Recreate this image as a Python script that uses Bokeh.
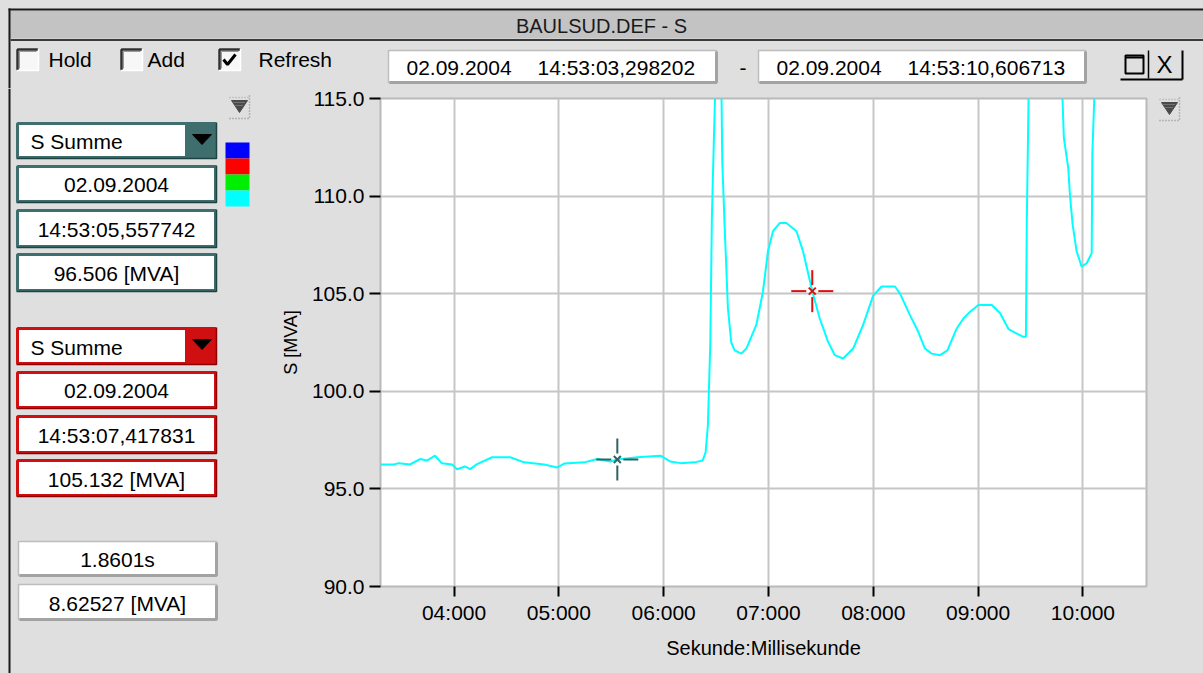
from bokeh.plotting import figure
from bokeh.layouts import column, row
from bokeh.models import Range1d, FixedTicker, PrintfTickFormatter
from bokeh.core.properties import value
from bokeh.embed import file_html
from bokeh.resources import INLINE

# ---------------- data ----------------
time_s = [3.298, 3.426, 3.474, 3.579, 3.675, 3.742, 3.818, 3.885, 3.981, 4.029,
          4.105, 4.153, 4.220, 4.363, 4.535, 4.669, 4.860, 4.985, 5.052, 5.243,
          5.367, 5.491, 5.558, 5.750, 5.969, 6.065, 6.161, 6.294, 6.371, 6.400,
          6.422, 6.445, 6.460, 6.479, 6.500, 6.524, 6.548, 6.559, 6.581, 6.613,
          6.645, 6.677, 6.741, 6.789, 6.884, 6.947, 6.995, 7.043, 7.107, 7.171,
          7.267, 7.330, 7.418, 7.489, 7.569, 7.633, 7.712, 7.808, 7.903, 7.999,
          8.079, 8.207, 8.254, 8.350, 8.429, 8.493, 8.557, 8.637, 8.707, 8.796,
          8.860, 8.924, 9.003, 9.131, 9.210, 9.290, 9.370, 9.433, 9.456, 9.465,
          9.484, 9.55, 9.65, 9.75, 9.802, 9.818, 9.860, 9.876, 9.902, 9.940,
          9.988, 10.036, 10.084, 10.090, 10.115, 10.2, 10.4, 10.6067]
s_mva = [96.25, 96.25, 96.32, 96.25, 96.53, 96.45, 96.70, 96.31, 96.25, 96.01,
         96.15, 96.01, 96.27, 96.62, 96.62, 96.36, 96.25, 96.10, 96.30, 96.36,
         96.53, 96.40, 96.51, 96.62, 96.70, 96.40, 96.32, 96.36, 96.45, 96.87,
         98.26, 102.5, 108.9, 112.9, 117.0, 119.0, 117.0, 111.8, 108.55, 104.25,
         102.5, 102.1, 101.93, 102.19, 103.4, 105.1, 107.17, 108.2, 108.62, 108.62,
         108.2, 107.17, 105.13, 103.73, 102.53, 101.85, 101.68, 102.19, 103.4, 104.9,
         105.37, 105.37, 105.02, 103.9, 103.05, 102.19, 101.93, 101.85, 102.1, 103.22,
         103.73, 104.08, 104.42, 104.42, 104.0, 103.19, 102.96, 102.79, 102.8, 108.88,
         116.0, 122.0, 127.0, 121.0, 115.5, 113.0, 111.45, 110.08, 108.54, 107.17,
         106.39, 106.56, 107.08, 112.14, 116.0, 122.0, 125.0, 124.0]

x_ticks = [4, 5, 6, 7, 8, 9, 10]
x_tick_labels = ["04:000", "05:000", "06:000", "07:000", "08:000", "09:000", "10:000"]
y_ticks = [90, 95, 100, 105, 110, 115]
t_start, t_end = 3.298202, 10.606713
y_start, y_end = 90.0, 115.0

cursor_time = [5.557742, 7.417831]
cursor_value = [96.506, 105.132]
cursor_color = ["#2f6262", "#dd1010"]

title_text = "BAULSUD.DEF - S"
checkbox_labels = ["Hold", "Add", "Refresh"]
checkbox_checked = [False, False, True]
range_dates = ["02.09.2004", "02.09.2004"]
range_times = ["14:53:03,298202", "14:53:10,606713"]
cursor1_fields = ["02.09.2004", "14:53:05,557742", "96.506 [MVA]"]
cursor2_fields = ["02.09.2004", "14:53:07,417831", "105.132 [MVA]"]
diff_fields = ["1.8601s", "8.62527 [MVA]"]
channel_name = "S  Summe"
swatch_colors = ["#0000ff", "#ff0000", "#00ee00", "#00ffff"]
x_label = "Sekunde:Millisekunde"
y_label = "S [MVA]"

# ---------------- style ----------------
BG = "#dfdfdf"
FONT = "Liberation Sans"
FS = "21px"


class Canvas:
    """A figure whose frame is the whole canvas, 1 unit = 1 pixel (y down)."""
    def __init__(self, ox, oy, w, h):
        self.ox, self.oy = ox, oy
        f = figure(width=w, height=h, x_range=Range1d(0, w), y_range=Range1d(h, 0),
                   output_backend="svg", toolbar_location=None, min_border=0,
                   x_axis_type=None, y_axis_type=None,
                   background_fill_color=BG, border_fill_color=BG,
                   outline_line_color=None, frame_align=False,
                   styles={"background-color": BG})
        self.f = f

    def box(self, x0, x1, y0, y1, fill=None, line=None, lw=1):
        self.f.quad(left=[x0 - self.ox], right=[x1 - self.ox],
                    top=[y0 - self.oy], bottom=[y1 - self.oy],
                    fill_color=fill, line_color=line, line_width=lw)

    def line(self, xs, ys, color="#000000", width=1, dash="solid"):
        self.f.line([x - self.ox for x in xs], [y - self.oy for y in ys],
                    line_color=color, line_width=width, line_dash=dash)

    def patch(self, xs, ys, color):
        self.f.patch([x - self.ox for x in xs], [y - self.oy for y in ys],
                     fill_color=color, line_color=color, line_width=1)

    def text(self, x, y, s, size=FS, align="left", color="#000000", style="normal"):
        self.f.text(x=[x - self.ox], y=[y - self.oy], text=[s],
                    text_font=value(FONT), text_font_size=size,
                    text_align=align, text_baseline="middle",
                    text_color=color, text_font_style=style)


def checkbox(c, x0, y0, checked, s=22):
    c.box(x0, x0 + s, y0, y0 + s, fill="#f7f7f7", line=None)
    c.line([x0 + 1, x0 + 1, x0 + s], [y0 + s, y0 + 1, y0 + 1], "#303030", 2.5)
    c.line([x0 + 3, x0 + 3, x0 + s - 2], [y0 + s - 2, y0 + 3, y0 + 3], "#9a9a9a", 1)
    c.line([x0, x0 + s, x0 + s], [y0 + s, y0 + s, y0], "#ffffff", 1.5)
    if checked:
        c.line([x0 + 5, x0 + 9, x0 + 17], [y0 + 11, y0 + 16, y0 + 6], "#000000", 3)


def raised_field(c, x0, x1, y0, y1):
    c.box(x0, x1, y0, y1, fill="#ffffff", line="#bdbdbd", lw=1.5)
    c.line([x0 + 1, x1, x1], [y1, y1, y0 + 1], "#a3a3a3", 3)


def colour_field(c, x0, x1, y0, y1, col, dark, label):
    c.box(x0, x1, y0, y1, fill="#ffffff", line=col, lw=3)
    c.line([x0 - 1, x1 + 1, x1 + 1], [y1 + 1, y1 + 1, y0 - 1], dark, 1.5)
    c.text((x0 + x1) / 2, (y0 + y1) / 2 + 1, label, align="center")


def dropdown(c, x0, x1, y0, y1, col, dark, label):
    c.box(x0, x1, y0, y1, fill="#ffffff", line=col, lw=3)
    c.box(x1 - 30, x1, y0, y1, fill=col, line=col, lw=1)
    c.line([x0 - 1, x1 + 1, x1 + 1], [y1 + 1, y1 + 1, y0 - 1], dark, 1.5)
    c.patch([x1 - 23, x1 - 4, x1 - 13.5], [y0 + 11, y0 + 11, y0 + 21], "#000000")
    c.text(x0 + 13, (y0 + y1) / 2 + 1, label)


def dither_icon(c, x0, y0):
    c.patch([x0 + 1, x0 + 17, x0 + 9], [y0 + 5, y0 + 5, y0 + 17], "#4a4a4a")
    c.line([x0 + 3, x0 + 15], [y0 + 7, y0 + 7], "#9a9a9a", 1, "1 1")
    c.line([x0 + 5, x0 + 13], [y0 + 10, y0 + 10], "#9a9a9a", 1, "1 1")
    c.line([x0 + 19, x0 + 19], [y0, y0 + 24], "#8a8a8a", 1.5, "1 2")
    c.line([x0 - 1, x0 + 19], [y0 + 23, y0 + 23], "#8a8a8a", 1.5, "1 2")
    c.line([x0 - 1, x0 + 19], [y0 + 2, y0 + 2], "#a8a8a8", 1.5, "1 2")


# ---------------- geometry (page pixels) ----------------
W_TOTAL, H_TOTAL = 1203, 673
TOP_H = 88
LW = 263
CW = 895
BODY_H = H_TOTAL - TOP_H

# ---------------- top strip ----------------
top = Canvas(0, 0, W_TOTAL, TOP_H)
top.box(8, 1203, 10, 38, fill="#c3c3c3", line=None)
top.line([8, 1203], [9, 9], "#1a1a1a", 2)
top.line([9, 9], [8, 88], "#1a1a1a", 2)
top.line([10, 1203], [39.5, 39.5], "#3a3a3a", 2)
top.text(601, 25, title_text, size="20px", align="center", color="#1a1a1a")

cb_x = [16, 120, 218]
lab_x = [48, 147, 258]
for cx, lx, lab, chk in zip(cb_x, lab_x, checkbox_labels, checkbox_checked):
    checkbox(top, cx, 48, chk)
    top.text(lx, 59, lab)

raised_field(top, 388, 716, 50, 82)
raised_field(top, 758, 1085, 50, 82)
top.text(406, 67, range_dates[0])
top.text(537, 67, range_times[0])
top.text(776, 67, range_dates[1])
top.text(907, 67, range_times[1])
top.text(739, 67, "-")

# window buttons
top.box(1125, 1143, 55, 73, fill=None, line="#000000", lw=2)
top.line([1125, 1143], [57, 57], "#000000", 2)
top.line([1148, 1148], [50, 78], "#000000", 1.5)
top.text(1164, 64, "X", size="24px", align="center")
top.line([1120, 1182], [79, 79], "#000000", 2)
top.line([1182, 1182], [50, 79], "#000000", 2)

# ---------------- left panel ----------------
left = Canvas(0, TOP_H, LW, BODY_H)
left.line([9, 9], [88, 673], "#1a1a1a", 2)
dither_icon(left, 230, 95)

TEAL, TEAL_D = "#3e6e6e", "#1f4242"
RED, RED_D = "#d01010", "#8a0000"
dropdown(left, 17, 215, 123, 157, TEAL, TEAL_D, channel_name)
for (y0, y1), lab in zip([(166, 201), (210, 246), (254, 290)], cursor1_fields):
    colour_field(left, 17, 215, y0, y1, TEAL, TEAL_D, lab)

sw_y = [142, 158, 174, 190, 206]
for i, col in enumerate(swatch_colors):
    left.box(225, 249, sw_y[i], sw_y[i + 1], fill=col, line=None)

dropdown(left, 17, 215, 328, 363, RED, RED_D, channel_name)
for (y0, y1), lab in zip([(372, 407), (416, 452), (460, 495)], cursor2_fields):
    colour_field(left, 17, 215, y0, y1, RED, RED_D, lab)

for (y0, y1), lab in zip([(541, 575), (584, 619)], diff_fields):
    raised_field(left, 18, 216, y0, y1)
    left.text(117, (y0 + y1) / 2 + 1, lab, align="center")

# ---------------- chart ----------------
MB_L, MB_R, MB_T, MB_B = 117, 12, 10, 87
p = figure(width=CW, height=BODY_H, x_range=Range1d(t_start, t_end),
           y_range=Range1d(y_start, y_end),
           output_backend="svg", toolbar_location=None,
           min_border_left=MB_L, min_border_right=MB_R,
           min_border_top=MB_T, min_border_bottom=MB_B,
           background_fill_color="#ffffff", border_fill_color=BG,
           outline_line_color="#b9b9b9", outline_line_width=2,
           frame_align=False, styles={"background-color": BG})

p.xaxis.ticker = FixedTicker(ticks=x_ticks)
p.xaxis.major_label_overrides = dict(zip(x_ticks, x_tick_labels))
p.yaxis.ticker = FixedTicker(ticks=y_ticks)
p.yaxis.formatter = PrintfTickFormatter(format="%.1f")
p.xgrid.ticker = FixedTicker(ticks=x_ticks)
p.ygrid.ticker = FixedTicker(ticks=y_ticks)
for g in (p.xgrid[0], p.ygrid[0]):
    g.grid_line_color = "#c6c6c6"
    g.grid_line_width = 2

for ax in (p.xaxis[0], p.yaxis[0]):
    ax.major_tick_line_color = "#000000"
    ax.major_tick_line_width = 2
    ax.major_tick_in = 0
    ax.minor_tick_line_color = None
    ax.major_label_text_font = FONT
    ax.major_label_text_font_size = FS
    ax.major_label_text_color = "#000000"
    ax.axis_label_text_font = FONT
    ax.axis_label_text_font_style = "normal"
    ax.axis_label_text_color = "#000000"
    ax.axis_line_color = None

p.xaxis.major_tick_out = 10
p.xaxis.major_label_standoff = 4
p.xaxis.axis_label = x_label
p.xaxis.axis_label_text_font_size = "20px"
p.xaxis.axis_label_standoff = 10

p.yaxis.major_tick_out = 11
p.yaxis.major_label_standoff = 5
p.yaxis.axis_label = y_label
p.yaxis.axis_label_text_font_size = "18px"
p.yaxis.axis_label_standoff = 8

p.line(time_s, s_mva, line_color="#00ffff", line_width=2)

# cursor cross-hairs (arms in pixels converted to data units)
fw = CW - MB_L - MB_R
fh = BODY_H - MB_T - MB_B
px_x = (t_end - t_start) / fw
px_y = (y_end - y_start) / fh
g0, g1, d = 6, 21, 3.5
for t, v, col in zip(cursor_time, cursor_value, cursor_color):
    x0s = [t - g1 * px_x, t + g0 * px_x, t, t, t - d * px_x, t - d * px_x]
    x1s = [t - g0 * px_x, t + g1 * px_x, t, t, t + d * px_x, t + d * px_x]
    y0s = [v, v, v + g0 * px_y, v - g0 * px_y, v - d * px_y, v + d * px_y]
    y1s = [v, v, v + g1 * px_y, v - g1 * px_y, v + d * px_y, v - d * px_y]
    p.segment(x0s, y0s, x1s, y1s, line_color=col, line_width=2)

# ---------------- right strip ----------------
right = Canvas(LW + CW, TOP_H, W_TOTAL - LW - CW, BODY_H)
dither_icon(right, 1160, 97)

body = row(left.f, p, right.f, styles={"background-color": BG})
layout = column(top.f, body, styles={"background-color": BG})

open("out.html", "w").write(file_html(layout, INLINE))
